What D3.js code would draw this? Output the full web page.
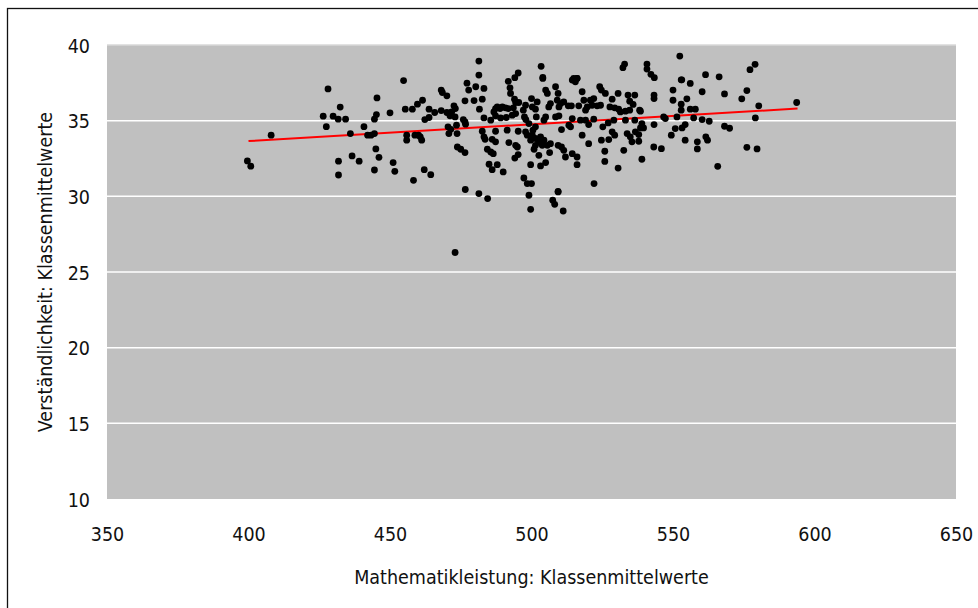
<!DOCTYPE html>
<html>
<head>
<meta charset="utf-8">
<script src="https://cdn.jsdelivr.net/npm/d3@7"></script>
<style>
  html, body { margin: 0; padding: 0; background: #fff; }
  svg text { font-family: "DejaVu Sans Condensed", "Liberation Sans Narrow", sans-serif; fill: #111; }
</style>
</head>
<body>
<svg id="chart" width="978" height="608"></svg>
<script>
// Axis settings
const xTicks = [350, 400, 450, 500, 550, 600, 650];
const yTicks = [10, 15, 20, 25, 30, 35, 40];
const xTitle = "Mathematikleistung: Klassenmittelwerte";
const yTitle = "Verständlichkeit: Klassenmittelwerte";

// Class means: math score (x) and comprehensibility (y)
const mathScores = [
  428.1, 445.4, 432.4, 426.4, 429.9, 431.7, 434.3, 445.2, 444.5, 427.5,
  440.8, 436.0, 442.1, 443.3, 444.5, 408.0, 445.0, 446.1, 436.6, 439.1,
  431.8, 431.8, 444.5, 399.6, 400.8,
  476.6, 481.4, 484.5, 499.1, 499.7, 507.5, 508.2, 509.4, 511.2, 473.0,
  481.4, 481.4, 495.3, 494.1, 491.8, 503.4, 504.0, 454.8,
  552.4, 532.9, 532.3, 540.8, 540.8, 542.2, 543.4, 561.5, 566.3, 579.0,
  577.2, 553.1, 514.9, 516.1,
  552.9, 556.1, 576.1, 568.2, 560.3, 574.3, 593.7, 580.3, 554.9, 552.9,
  552.9, 556.1, 557.9, 557.3, 560.3, 562.8, 579.1, 554.3, 553.2, 568.2,
  570.0, 554.3, 561.6, 562.2, 558.6, 558.6, 576.1, 579.7, 565.8,
  504.0, 514.4, 516.1, 515.5, 517.9, 524.1, 524.7, 526.1, 530.6, 550.0,
  550.0, 543.3, 543.3, 534.1, 536.5, 534.7, 535.9, 538.2, 500.0, 500.3,
  501.4, 502.0, 505.0, 505.6, 506.1, 506.7, 508.5, 509.4, 509.1, 509.7,
  510.3, 511.4, 513.0, 514.1, 516.7, 518.5, 519.7, 520.8, 521.4, 522.0,
  523.2, 524.4, 519.1, 527.7, 528.5, 529.4, 530.8, 531.4, 533.2, 534.7,
  538.5, 501.7, 505.0, 504.4, 508.5, 509.7, 514.4, 517.3, 519.1, 522.0,
  520.2, 513.2, 513.8, 499.1, 501.4, 500.5, 510.6, 525.2, 527.1, 529.1,
  533.2, 536.5, 539.0, 539.6, 538.5, 543.3, 546.7, 547.3, 551.4, 550.8,
  549.4, 517.9, 533.8, 534.9, 536.7, 537.9, 535.5, 537.9, 528.5, 529.4,
  527.3, 524.7, 520.2, 500.3, 499.7, 501.4, 503.2, 504.4, 502.6, 503.8,
  501.4, 505.6, 506.7, 500.9, 509.4, 510.6, 511.4, 502.6, 506.4, 505.0,
  503.2, 499.7, 512.0, 514.4, 516.1, 516.1, 525.9, 525.9, 532.6, 530.6,
  539.0, 543.2, 545.9, 522.1, 509.4, 500.0,
  477.2, 468.1, 468.5, 477.8, 480.3, 483.2, 492.4, 492.6, 470.1, 461.5,
  459.7, 457.9, 455.4, 450.0, 476.5, 479.7, 482.6, 481.6, 494.0, 494.4,
  495.5, 497.9, 463.8, 465.8, 468.1, 470.1, 472.6, 473.1, 471.8, 471.2,
  473.0, 462.3, 463.8, 475.9, 476.5, 476.7, 483.2, 486.7, 487.3, 487.9,
  488.9, 489.7, 490.8, 491.8, 493.6, 497.1, 497.5, 498.0, 485.6, 487.3,
  489.1, 491.1, 493.2, 494.4, 470.5, 471.5, 473.5, 470.8, 473.7, 482.6,
  483.2, 483.6, 487.3, 491.4, 495.3, 497.9, 498.5, 455.9, 455.9, 458.8,
  460.1, 460.7, 461.2, 486.1, 487.3, 492.0, 494.4, 495.0, 473.8, 475.0,
  476.5, 484.4, 485.6, 486.5, 495.3, 494.1, 451.1, 451.7, 462.1, 464.4,
  485.0, 486.1, 487.9, 490.0, 458.3, 497.3, 498.5
];
const comprehension = [
  37.10, 36.50, 35.90, 35.30, 35.30, 35.10, 35.10, 35.40, 35.10, 34.60,
  34.60, 34.15, 34.04, 34.04, 34.15, 34.04, 33.13, 32.58, 32.67, 32.32,
  32.32, 31.41, 31.74, 32.34, 31.99,
  30.45, 30.18, 29.85, 30.07, 29.14, 29.74, 29.47, 30.29, 29.03, 26.29,
  38.94, 38.01, 38.15, 37.84, 37.60, 38.59, 37.86, 37.65,
  39.27, 38.74, 38.50, 38.74, 38.41, 38.06, 37.84, 38.04, 37.90, 38.72,
  38.37, 37.70, 37.80, 37.80,
  37.70, 37.46, 36.99, 36.77, 36.91, 36.44, 36.20, 35.98, 36.44, 36.09,
  35.69, 35.76, 35.76, 35.18, 35.07, 34.96, 35.18, 34.74, 34.52, 34.63,
  34.50, 33.71, 33.93, 33.71, 33.60, 33.13, 33.24, 33.13, 31.98,
  37.79, 37.68, 37.79, 37.57, 36.91, 37.24, 37.02, 36.80, 36.80, 37.02,
  36.35, 36.69, 36.46, 36.69, 36.69, 36.29, 36.07, 35.69, 36.46, 35.91,
  35.76, 36.24, 37.02, 36.80, 35.91, 36.13, 37.24, 36.80, 36.35, 35.91,
  36.13, 36.24, 35.98, 35.98, 35.98, 36.35, 35.91, 36.35, 36.02, 36.46,
  35.98, 36.02, 35.69, 35.91, 36.42, 35.85, 35.76, 35.58, 35.63, 35.69,
  35.63, 35.25, 35.25, 35.03, 35.25, 35.32, 35.14, 35.03, 35.03, 35.10,
  34.74, 34.70, 34.59, 34.81, 34.59, 34.37, 34.41, 34.59, 34.85, 35.03,
  35.03, 35.03, 34.81, 34.52, 34.52, 34.74, 35.25, 35.14, 35.25, 34.48,
  34.04, 34.04, 34.15, 33.93, 34.26, 34.08, 33.60, 33.64, 34.26, 34.04,
  33.75, 33.71, 33.48, 34.04, 33.71, 33.82, 33.93, 33.71, 33.60, 33.37,
  33.37, 33.37, 33.48, 33.11, 33.37, 33.26, 33.04, 32.71, 32.89, 32.23,
  32.01, 32.09, 32.60, 32.82, 32.60, 32.09, 32.98, 32.31, 33.04, 31.87,
  32.45, 33.26, 33.15, 30.84, 30.33, 30.84,
  37.48, 37.02, 36.86, 37.02, 37.24, 37.13, 37.17, 36.80, 36.64, 36.35,
  36.09, 35.76, 35.76, 35.52, 36.31, 36.33, 36.42, 35.76, 36.42, 36.20,
  36.20, 36.02, 35.76, 35.54, 35.67, 35.54, 35.98, 35.80, 35.58, 35.32,
  35.25, 35.07, 35.21, 35.07, 34.92, 34.77, 35.18, 35.58, 35.80, 35.91,
  35.80, 35.91, 35.85, 35.80, 35.85, 35.69, 35.25, 35.07, 35.03, 35.32,
  35.18, 35.21, 35.36, 35.47, 34.59, 34.43, 34.70, 34.15, 34.15, 34.30,
  33.93, 33.77, 34.30, 34.37, 34.30, 34.26, 34.04, 34.04, 33.71, 34.04,
  34.04, 33.93, 33.71, 33.77, 33.60, 33.55, 33.37, 33.26, 33.26, 33.11,
  32.89, 33.11, 32.93, 32.82, 32.76, 32.53, 32.23, 31.65, 31.76, 31.43,
  32.12, 31.76, 32.09, 31.61, 31.06, 31.21, 30.84
];

// Linear trend line endpoints
const trendX = [400, 594];
const trendY = [33.65, 35.8];

const svg = d3.select("#chart");
const W = 978, H = 608;
const m = { left: 107, right: 22, top: 45, bottom: 109 };

svg.append("rect").attr("width", W).attr("height", H).attr("fill", "#fff");
// outer frame (right/bottom edges lie outside the view)
svg.append("rect")
  .attr("x", 7.5).attr("y", 8.5).attr("width", W + 10).attr("height", H + 10)
  .attr("fill", "none").attr("stroke", "#111").attr("stroke-width", 1.3);

const x = d3.scaleLinear().domain([350, 650]).range([m.left, W - m.right]);
const y = d3.scaleLinear().domain([10, 40]).range([H - m.bottom, m.top]);

// plot area
svg.append("rect")
  .attr("x", x(350)).attr("y", y(40))
  .attr("width", x(650) - x(350)).attr("height", y(10) - y(40))
  .attr("fill", "#c0c0c0");

// gridlines
svg.append("g").selectAll("line").data(yTicks.filter(t => t > 10)).join("line")
  .attr("x1", x(350)).attr("x2", x(650))
  .attr("y1", d => y(d)).attr("y2", d => y(d))
  .attr("stroke", d => d === 40 ? "#d8d8d8" : "#ffffff").attr("stroke-width", 1.5);

// axes (labels only)
const xAxis = d3.axisBottom(x).tickValues(xTicks).tickSize(0).tickPadding(0).tickFormat(d3.format("d"));
const gx = svg.append("g").attr("transform", `translate(0,${y(10)})`).call(xAxis);
gx.select(".domain").remove();
gx.selectAll("text").attr("y", 0).attr("dy", "42").style("font-size", "19.5px").attr("fill", "#111");

const yAxis = d3.axisLeft(y).tickValues(yTicks).tickSize(0).tickPadding(0).tickFormat(d3.format("d"));
const gy = svg.append("g").attr("transform", `translate(${x(350) - 17},0)`).call(yAxis);
gy.select(".domain").remove();
gy.selectAll("text").attr("x", 0).attr("dy", "0.36em").style("font-size", "19.5px").attr("fill", "#111");

// axis titles
svg.append("text")
  .attr("x", (x(350) + x(650)) / 2).attr("y", 584)
  .attr("text-anchor", "middle").style("font-size", "19.5px")
  .text(xTitle);
svg.append("text")
  .attr("transform", `translate(52,${(y(10) + y(40)) / 2}) rotate(-90)`)
  .attr("text-anchor", "middle").style("font-size", "19.5px")
  .text(yTitle);

// trend line
svg.append("line")
  .attr("x1", x(trendX[0])).attr("y1", y(trendY[0]))
  .attr("x2", x(trendX[1])).attr("y2", y(trendY[1]))
  .attr("stroke", "#ff0000").attr("stroke-width", 2);

// points
const pts = mathScores.map((v, i) => [v, comprehension[i]]);
svg.append("g").selectAll("circle").data(pts).join("circle")
  .attr("cx", d => x(d[0])).attr("cy", d => y(d[1]))
  .attr("r", 3.4).attr("fill", "#000");
</script>
</body>
</html>
